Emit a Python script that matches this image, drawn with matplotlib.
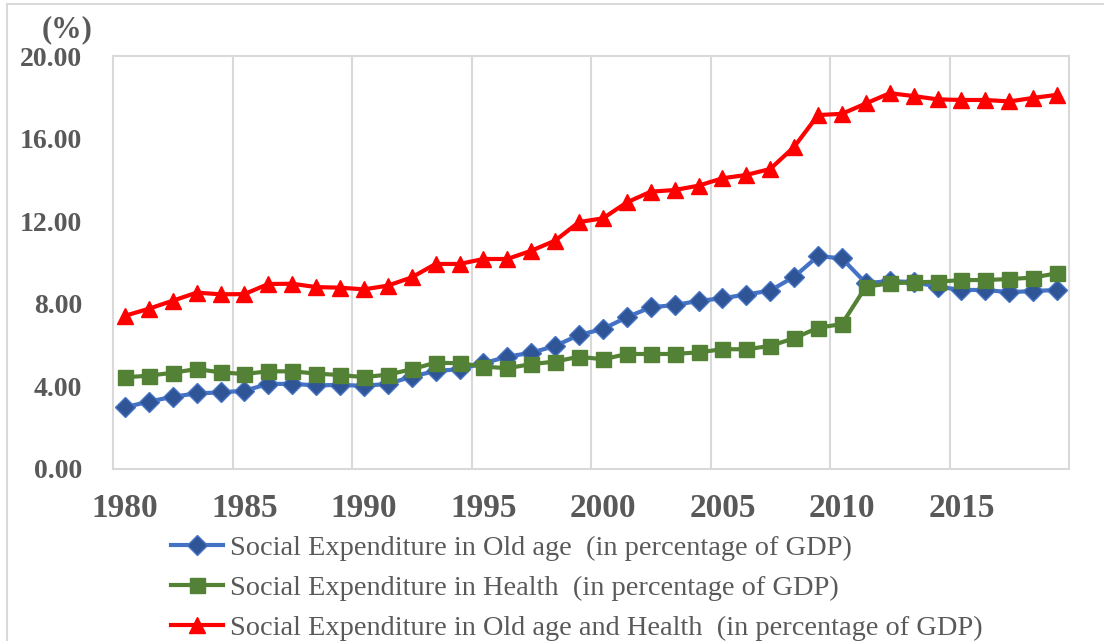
import matplotlib
matplotlib.use("Agg")
import matplotlib.pyplot as plt
from matplotlib.lines import Line2D
import numpy as np

# Social expenditure as a share of GDP, 1980-2019
years = list(range(1980, 2020))

old_age = [2.99, 3.26, 3.50, 3.66, 3.71, 3.79, 4.12, 4.12, 4.05, 4.07,
           4.03, 4.12, 4.47, 4.75, 4.83, 5.12, 5.44, 5.63, 5.96, 6.49,
           6.78, 7.35, 7.83, 7.94, 8.14, 8.27, 8.45, 8.64, 9.31, 10.31,
           10.20, 9.00, 9.10, 9.05, 8.83, 8.67, 8.67, 8.56, 8.62, 8.67]

health = [4.44, 4.52, 4.66, 4.84, 4.68, 4.60, 4.73, 4.73, 4.62, 4.55,
          4.45, 4.57, 4.83, 5.15, 5.12, 4.96, 4.88, 5.08, 5.20, 5.44,
          5.31, 5.57, 5.57, 5.57, 5.65, 5.80, 5.80, 5.96, 6.33, 6.84,
          7.02, 8.83, 8.99, 9.04, 9.07, 9.15, 9.15, 9.20, 9.27, 9.48]

old_age_health = [7.42, 7.76, 8.15, 8.54, 8.46, 8.47, 8.96, 8.97, 8.81, 8.78,
                  8.70, 8.88, 9.28, 9.93, 9.93, 10.17, 10.17, 10.57, 11.06, 11.96,
                  12.14, 12.91, 13.43, 13.51, 13.72, 14.08, 14.24, 14.53, 15.60, 17.14,
                  17.20, 17.70, 18.20, 18.06, 17.90, 17.87, 17.87, 17.80, 17.97, 18.12]

y_ticks = [0, 4, 8, 12, 16, 20]
y_tick_labels = ["0.00", "4.00", "8.00", "12.00", "16.00", "20.00"]
x_label_years = [1980, 1985, 1990, 1995, 2000, 2005, 2010, 2015]

labels = [
    "Social Expenditure in Old age  (in percentage of GDP)",
    "Social Expenditure in Health  (in percentage of GDP)",
    "Social Expenditure in Old age and Health  (in percentage of GDP)",
]

TEXT = "#595959"
GRID = "#D9D9D9"
SERIF = ["Liberation Serif", "DejaVu Serif"]

W, H = 1104, 641
fig = plt.figure(figsize=(W / 100, H / 100), dpi=100)
ax = fig.add_axes([113 / W, (H - 469) / H, 956 / W, 413 / H])

ax.plot(years, old_age, color="#4472C4", lw=3.0, marker="D", ms=10.0,
        mfc="#2F5597", mec="#4472C4", mew=1.0, label=labels[0], zorder=3)
ax.plot(years, health, color="#548235", lw=3.0, marker="s", ms=10.8,
        mfc="#538135", mec="#548235", mew=1.0, label=labels[1], zorder=4)
ax.plot(years, old_age_health, color="#FF0000", lw=3.0, marker="^", ms=11.5,
        mfc="#FF0000", mec="#FF0000", mew=1.0, label=labels[2], zorder=5)

ax.set_xlim(1979.5, 2019.5)
ax.set_ylim(0, 20)

ax.set_yticks(y_ticks)
ax.set_yticklabels(y_tick_labels)
ax.set_xticks(x_label_years)
ax.set_xticklabels([str(y) for y in x_label_years])
ax.set_xticks(np.arange(1984.5, 2019, 5), minor=True)
ax.grid(True, which="minor", axis="x", color=GRID, lw=1.5)
ax.tick_params(axis="both", which="both", length=0)
ax.tick_params(axis="y", pad=22)
ax.tick_params(axis="x", pad=17)

for lab in ax.get_yticklabels():
    lab.set_fontfamily(SERIF)
    lab.set_fontweight("bold")
    lab.set_fontsize(20)
    lab.set_color(TEXT)
for lab in ax.get_xticklabels():
    lab.set_fontfamily(SERIF)
    lab.set_fontweight("bold")
    lab.set_fontsize(24)
    lab.set_color(TEXT)

for sp in ax.spines.values():
    sp.set_color(GRID)
    sp.set_linewidth(1.5)

fig.text(67 / W, 1 - 30 / H, "(%)", family=SERIF, fontweight="bold",
         fontsize=22, color=TEXT, ha="center", va="center")

leg = fig.legend(loc="upper left", bbox_to_anchor=(171 / W, 1 - 535 / H),
                 frameon=False, prop={"family": SERIF, "size": 20.4},
                 handlelength=1.85, handletextpad=0.25, labelspacing=0.5,
                 borderaxespad=0, borderpad=0)
for t in leg.get_texts():
    t.set_color(TEXT)

# outer chart frame
fig.add_artist(Line2D([7 / W, 7 / W], [0, 1 - 4 / H], transform=fig.transFigure,
                      color=GRID, lw=1.5))
fig.add_artist(Line2D([7 / W, 1.0], [1 - 4 / H, 1 - 4 / H], transform=fig.transFigure,
                      color=GRID, lw=1.5))

fig.savefig("out.png", dpi=100)
